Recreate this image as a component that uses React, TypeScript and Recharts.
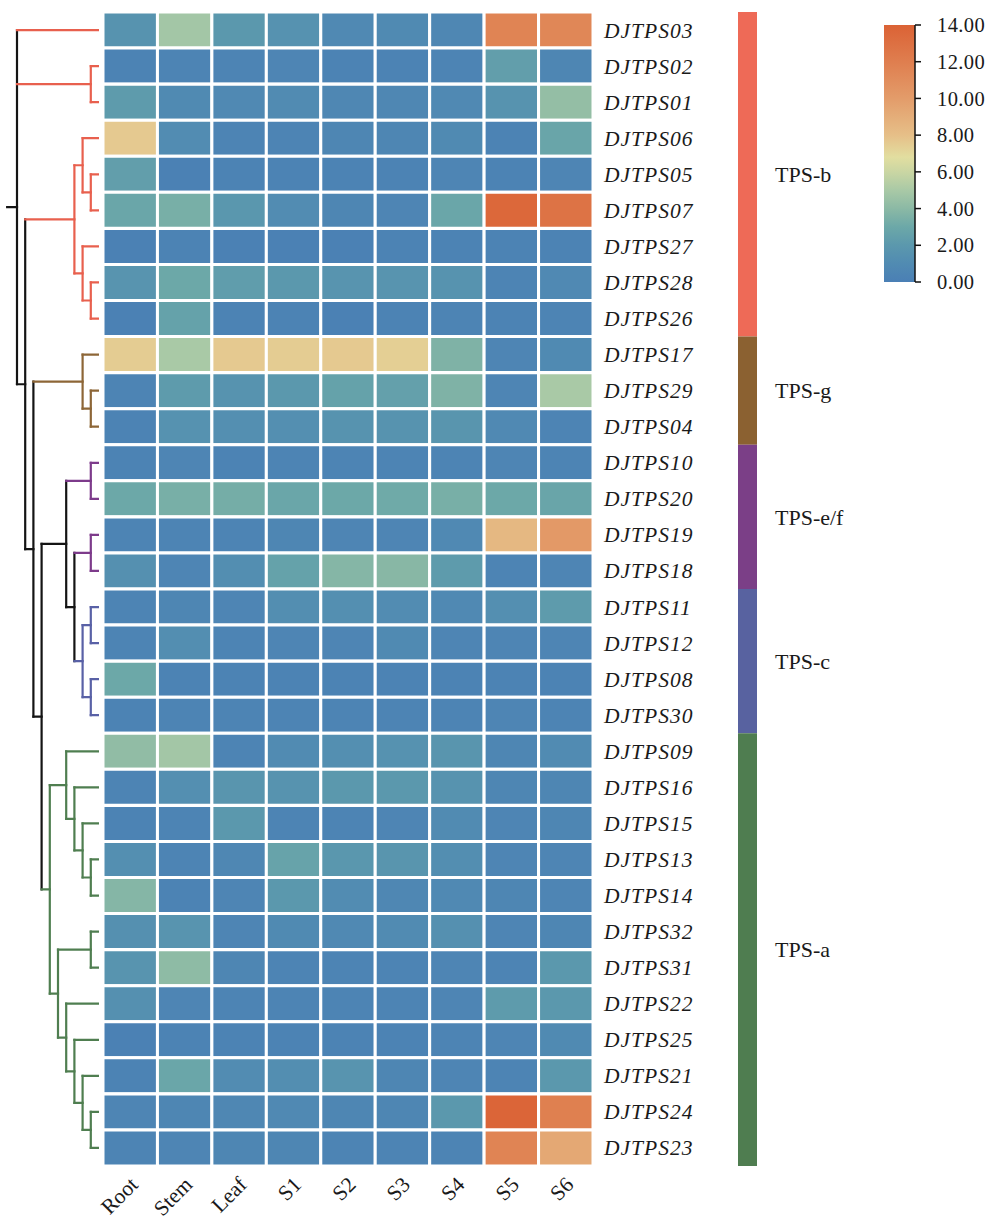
import React from 'react';
import { BarChart, Bar, Cell, XAxis, YAxis, LineChart, Line, LabelList } from 'recharts';

const FONT = '"Liberation Serif", "Times New Roman", Times, serif';

// ---------- data ----------
const tissues = ['Root', 'Stem', 'Leaf', 'S1', 'S2', 'S3', 'S4', 'S5', 'S6'];

const genes = [
  'DJTPS03', 'DJTPS02', 'DJTPS01', 'DJTPS06', 'DJTPS05', 'DJTPS07', 'DJTPS27', 'DJTPS28',
  'DJTPS26', 'DJTPS17', 'DJTPS29', 'DJTPS04', 'DJTPS10', 'DJTPS20', 'DJTPS19', 'DJTPS18',
  'DJTPS11', 'DJTPS12', 'DJTPS08', 'DJTPS30', 'DJTPS09', 'DJTPS16', 'DJTPS15', 'DJTPS13',
  'DJTPS14', 'DJTPS32', 'DJTPS31', 'DJTPS22', 'DJTPS25', 'DJTPS21', 'DJTPS24', 'DJTPS23',
];

// expression per gene (rows follow `genes`), columns follow `tissues`
const expression: number[][] = [
  [1.6, 4.8, 2.0, 1.5, 0.8, 0.9, 0.7, 11.6, 11.4],
  [0.3, 0.4, 0.4, 0.5, 0.3, 0.3, 0.4, 2.4, 0.6],
  [2.2, 0.9, 0.8, 1.0, 0.7, 0.7, 0.8, 1.6, 4.3],
  [7.6, 1.1, 0.4, 0.4, 0.6, 0.6, 0.9, 0.3, 2.8],
  [2.4, 0.2, 0.3, 0.3, 0.3, 0.3, 0.5, 0.3, 0.5],
  [2.9, 3.4, 1.9, 1.1, 0.6, 0.5, 2.9, 13.6, 12.8],
  [0.2, 0.3, 0.2, 0.2, 0.2, 0.3, 0.3, 0.3, 0.3],
  [1.7, 3.0, 2.3, 2.0, 1.7, 1.7, 1.6, 0.4, 0.8],
  [0.2, 2.6, 0.3, 0.3, 0.2, 0.3, 0.4, 0.3, 0.4],
  [7.5, 5.0, 7.6, 7.5, 7.6, 7.4, 3.6, 0.5, 0.9],
  [0.4, 2.2, 1.6, 2.0, 2.6, 2.5, 3.6, 0.5, 5.0],
  [0.3, 1.5, 1.3, 1.3, 1.6, 1.6, 1.8, 0.8, 0.4],
  [0.3, 0.5, 0.3, 0.4, 0.4, 0.4, 0.4, 0.5, 0.4],
  [3.0, 3.4, 3.3, 2.9, 3.0, 3.1, 3.4, 3.0, 2.8],
  [0.4, 0.4, 0.4, 0.6, 0.5, 0.5, 0.8, 8.4, 10.2],
  [1.4, 0.5, 1.2, 2.6, 3.8, 3.9, 2.2, 0.4, 0.5],
  [0.4, 0.6, 0.5, 1.2, 1.3, 1.1, 0.8, 1.3, 2.2],
  [0.4, 1.2, 0.4, 0.5, 0.5, 0.9, 0.5, 0.5, 0.5],
  [3.0, 0.3, 0.3, 0.3, 0.3, 0.3, 0.3, 0.3, 0.3],
  [0.3, 0.4, 0.4, 0.4, 0.4, 0.4, 0.4, 0.5, 0.4],
  [4.2, 4.8, 0.4, 1.0, 1.3, 1.5, 1.8, 0.6, 1.0],
  [0.4, 1.3, 1.8, 1.6, 2.0, 2.0, 1.6, 0.6, 0.6],
  [0.3, 0.4, 2.0, 0.4, 0.4, 0.5, 1.0, 0.5, 0.6],
  [1.3, 0.4, 0.7, 2.7, 1.9, 1.8, 1.2, 0.5, 0.5],
  [3.8, 0.3, 0.5, 2.0, 1.1, 0.7, 0.8, 0.6, 0.5],
  [1.4, 1.7, 0.5, 0.9, 0.8, 1.0, 1.4, 0.5, 0.6],
  [1.7, 4.1, 0.6, 0.4, 0.4, 0.4, 0.5, 0.4, 2.0],
  [1.4, 0.5, 0.4, 0.4, 0.4, 0.4, 0.5, 2.2, 2.0],
  [0.2, 0.3, 0.3, 0.3, 0.3, 0.3, 0.4, 0.5, 0.9],
  [0.3, 2.9, 1.1, 1.2, 1.7, 0.6, 0.5, 0.4, 2.0],
  [0.5, 0.6, 0.7, 0.8, 0.6, 0.6, 2.0, 13.8, 11.9],
  [0.4, 0.5, 0.6, 0.6, 0.4, 0.4, 0.4, 11.6, 9.3],
];

const groupNames = ['TPS-b', 'TPS-g', 'TPS-e/f', 'TPS-c', 'TPS-a'];
const groupSizes = [9, 3, 4, 4, 12];
const groupColors = ['#ee6a57', '#8b6131', '#7b3f87', '#5862a0', '#4f7d50'];
const branchColors = ['#e8604e', '#8d6637', '#7d3b8b', '#5961a6', '#4f7e50'];
const branchBlack = '#141414';

const legendTicks = [0, 2, 4, 6, 8, 10, 12, 14];
const legendMax = 14;
const colorStops: [number, string][] = [
  [0, '#4a7fb5'],
  [1, '#518bb2'],
  [2, '#5b98ad'],
  [3, '#6ca8a8'],
  [4, '#8bb9a5'],
  [5, '#a9c9a6'],
  [6, '#cad6a3'],
  [6.8, '#e2dea0'],
  [8, '#e6bf88'],
  [10, '#e39c6a'],
  [12, '#df7e4f'],
  [14, '#db6235'],
];

// dendrogram: internal nodes carry a merge height, leaves are gene names
type TNode = { h: number; c: (TNode | string)[] };
const dendrogram: TNode = {
  h: 10,
  c: [
    'DJTPS03',
    { h: 1, c: ['DJTPS02', 'DJTPS01'] },
    {
      h: 9,
      c: [
        {
          h: 3,
          c: [
            { h: 2, c: ['DJTPS06', { h: 1, c: ['DJTPS05', 'DJTPS07'] }] },
            { h: 2, c: ['DJTPS27', { h: 1, c: ['DJTPS28', 'DJTPS26'] }] },
          ],
        },
        {
          h: 8,
          c: [
            { h: 2, c: ['DJTPS17', { h: 1, c: ['DJTPS29', 'DJTPS04'] }] },
            {
              h: 7,
              c: [
                {
                  h: 4,
                  c: [
                    { h: 1, c: ['DJTPS10', 'DJTPS20'] },
                    {
                      h: 3,
                      c: [
                        { h: 1, c: ['DJTPS19', 'DJTPS18'] },
                        {
                          h: 2,
                          c: [
                            { h: 1, c: ['DJTPS11', 'DJTPS12'] },
                            { h: 1, c: ['DJTPS08', 'DJTPS30'] },
                          ],
                        },
                      ],
                    },
                  ],
                },
                {
                  h: 6,
                  c: [
                    {
                      h: 4,
                      c: [
                        'DJTPS09',
                        {
                          h: 3,
                          c: [
                            'DJTPS16',
                            { h: 2, c: ['DJTPS15', { h: 1, c: ['DJTPS13', 'DJTPS14'] }] },
                          ],
                        },
                      ],
                    },
                    {
                      h: 5,
                      c: [
                        { h: 1, c: ['DJTPS32', 'DJTPS31'] },
                        {
                          h: 4,
                          c: [
                            'DJTPS22',
                            {
                              h: 3,
                              c: [
                                'DJTPS25',
                                { h: 2, c: ['DJTPS21', { h: 1, c: ['DJTPS24', 'DJTPS23'] }] },
                              ],
                            },
                          ],
                        },
                      ],
                    },
                  ],
                },
              ],
            },
          ],
        },
      ],
    },
  ],
};
const rootStub = 1.2;

// ---------- helpers ----------
function hexToRgb(hex: string) {
  const n = parseInt(hex.slice(1), 16);
  return [(n >> 16) & 255, (n >> 8) & 255, n & 255];
}
function colorFor(v: number) {
  const val = Math.max(0, Math.min(legendMax, v));
  for (let i = 0; i < colorStops.length - 1; i++) {
    const [a, ca] = colorStops[i];
    const [b, cb] = colorStops[i + 1];
    if (val >= a && val <= b) {
      const t = (val - a) / (b - a);
      const A = hexToRgb(ca);
      const B = hexToRgb(cb);
      const m = A.map((x, k) => Math.round(x + (B[k] - x) * t));
      return `rgb(${m[0]},${m[1]},${m[2]})`;
    }
  }
  return colorStops[colorStops.length - 1][1];
}

function groupOfGene(name: string) {
  const idx = genes.indexOf(name);
  let acc = 0;
  for (let g = 0; g < groupSizes.length; g++) {
    acc += groupSizes[g];
    if (idx < acc) return g;
  }
  return -1;
}

type Seg = { pts: { h: number; y: number }[]; color: string };
const branchColor = (g: number) => (g >= 0 ? branchColors[g] : branchBlack);

function layoutTree(node: TNode | string, segs: Seg[]): { y: number; h: number; g: number } {
  if (typeof node === 'string') {
    return { y: genes.indexOf(node) + 0.5, h: 0, g: groupOfGene(node) };
  }
  const kids = node.c.map((k) => layoutTree(k, segs));
  const ys = kids.map((k) => k.y);
  const minY = Math.min(...ys);
  const maxY = Math.max(...ys);
  const g = kids.every((k) => k.g === kids[0].g) ? kids[0].g : -1;
  segs.push({ pts: [{ h: node.h, y: minY }, { h: node.h, y: maxY }], color: branchColor(g) });
  kids.forEach((k) =>
    segs.push({ pts: [{ h: node.h, y: k.y }, { h: k.h, y: k.y }], color: branchColor(k.g) })
  );
  return { y: (minY + maxY) / 2, h: node.h, g };
}

const treeSegs: Seg[] = [];
const rootPos = layoutTree(dendrogram, treeSegs);
treeSegs.unshift({
  pts: [{ h: rootPos.h, y: rootPos.y }, { h: rootPos.h + rootStub, y: rootPos.y }],
  color: branchBlack,
});

const heatData = genes.map((gene, i) => {
  const row: Record<string, any> = { gene };
  tissues.forEach((t) => {
    row['cell_' + t] = 1;
  });
  row.values = expression[i];
  return row;
});

const groupDatum = [
  groupNames.reduce((o: Record<string, any>, g, i) => {
    o[g] = groupSizes[i];
    return o;
  }, { name: 'group' }),
];

const legendDatum = [{ name: 'scale', top: legendMax }];

// ---------- ticks ----------
const TissueTick = (props: any) => {
  const { x, y, payload } = props;
  const label = tissues[Math.floor(payload.value)];
  const px = x + 9;
  const py = y + 20;
  return (
    <text
      x={px}
      y={py}
      transform={`rotate(-45 ${px} ${py})`}
      textAnchor="end"
      fontFamily={FONT}
      fontSize={21.5}
      fill="#1a1a1a"
    >
      {label}
    </text>
  );
};

const GeneTick = (props: any) => {
  const { x, y, payload } = props;
  return (
    <text
      x={x + 11}
      y={y}
      dy="0.35em"
      textAnchor="start"
      fontFamily={FONT}
      fontStyle="italic"
      fontSize={21.5}
      letterSpacing={1}
      fill="#1a1a1a"
    >
      {payload.value}
    </text>
  );
};

const LegendTick = (props: any) => {
  const { x, y, payload } = props;
  return (
    <text
      x={x}
      y={y}
      dy="0.35em"
      textAnchor="start"
      fontFamily={FONT}
      fontSize={20.5}
      letterSpacing={0.4}
      fill="#1a1a1a"
    >
      {Number(payload.value).toFixed(2)}
    </text>
  );
};

const GroupLabel = (props: any) => {
  const { x, y, width, height, name } = props;
  return (
    <text
      x={x + width + 18}
      y={y + height / 2}
      dy="0.35em"
      textAnchor="start"
      fontFamily={FONT}
      fontSize={22}
      fill="#1a1a1a"
    >
      {name}
    </text>
  );
};

// ---------- app ----------
export default function App() {
  return (
    <div style={{ position: 'absolute', left: 0, top: 0, width: 990, height: 1221, background: '#fff', overflow: 'hidden' }}>
      {/* heatmap */}
      <div style={{ position: 'absolute', left: 0, top: 0 }}>
        <BarChart
          layout="vertical"
          width={990}
          height={1221}
          data={heatData}
          margin={{ top: 12, right: 277, bottom: 0, left: 103 }}
          barCategoryGap={0}
          barGap={0}
        >
          <XAxis
            type="number"
            domain={[0, 9]}
            ticks={tissues.map((_, j) => j + 0.5)}
            interval={0}
            axisLine={false}
            tickLine={false}
            tickSize={0}
            tickMargin={0}
            height={55}
            tick={<TissueTick />}
            allowDataOverflow
          />
          <YAxis
            type="category"
            dataKey="gene"
            orientation="right"
            width={120}
            axisLine={false}
            tickLine={false}
            tickSize={0}
            tickMargin={0}
            interval={0}
            tick={<GeneTick />}
          />
          {tissues.map((t, j) => (
            <Bar
              key={t}
              dataKey={'cell_' + t}
              stackId="cells"
              stroke="#ffffff"
              strokeWidth={3}
              isAnimationActive={false}
            >
              {heatData.map((d, i) => (
                <Cell key={i} fill={colorFor(d.values[j])} />
              ))}
            </Bar>
          ))}
        </BarChart>
      </div>

      {/* dendrogram */}
      <div style={{ position: 'absolute', left: 0, top: 0 }}>
        <LineChart width={104} height={1221} margin={{ top: 12, bottom: 55, left: 4.7, right: 5 }}>
          <XAxis type="number" dataKey="h" domain={[0, 11.5]} reversed hide allowDataOverflow />
          <YAxis type="number" domain={[0, 32]} reversed hide allowDataOverflow />
          {treeSegs.map((s, i) => (
            <Line
              key={i}
              data={s.pts}
              dataKey="y"
              stroke={s.color}
              strokeWidth={2.2}
              strokeLinecap="square"
              dot={false}
              activeDot={false}
              isAnimationActive={false}
            />
          ))}
        </LineChart>
      </div>

      {/* group bar */}
      <div style={{ position: 'absolute', left: 728, top: 0 }}>
        <BarChart width={160} height={1221} data={groupDatum} margin={{ top: 12, bottom: 55, left: 0, right: 121 }}>
          <XAxis dataKey="name" hide />
          <YAxis type="number" domain={[0, 32]} reversed hide />
          {groupNames.map((g, i) => (
            <Bar key={g} dataKey={g} stackId="grp" fill={groupColors[i]} barSize={19} isAnimationActive={false}>
              <LabelList dataKey={g} content={(p: any) => <GroupLabel {...p} name={g} />} />
            </Bar>
          ))}
        </BarChart>
      </div>

      {/* colour legend */}
      <div style={{ position: 'absolute', left: 870, top: 15 }}>
        <BarChart
          width={120}
          height={277}
          data={legendDatum}
          margin={{ top: 10, bottom: 10, left: 14, right: 0 }}
          barCategoryGap={0}
        >
          <defs>
            <linearGradient id="exprGradient" x1="0" y1="1" x2="0" y2="0">
              {colorStops.map(([v, c]) => (
                <stop key={v} offset={v / legendMax} stopColor={c} />
              ))}
            </linearGradient>
          </defs>
          <XAxis dataKey="name" hide />
          <YAxis
            type="number"
            orientation="right"
            domain={[0, legendMax]}
            ticks={legendTicks}
            interval={0}
            width={75}
            axisLine={{ stroke: '#111', strokeWidth: 1.5 }}
            tickLine={{ stroke: '#111', strokeWidth: 1.5 }}
            tickSize={6}
            tickMargin={16}
            tick={<LegendTick />}
          />
          <Bar dataKey="top" fill="url(#exprGradient)" isAnimationActive={false} />
        </BarChart>
      </div>
    </div>
  );
}
